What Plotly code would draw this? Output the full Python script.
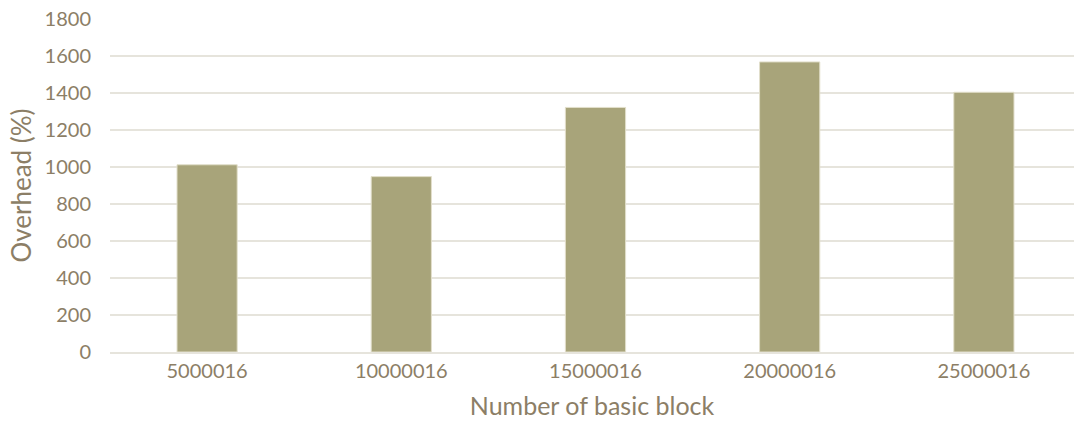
import plotly.graph_objects as go

# Overhead measured for each basic-block count
block_counts = ["5000016", "10000016", "15000016", "20000016", "25000016"]
overhead_pct = [1012, 948, 1322, 1568, 1404]
y_ticks = [0, 200, 400, 600, 800, 1000, 1200, 1400, 1600, 1800]

TEXT = "#8C7E66"
BAR = "#A8A47A"
GRID = "#E6E4DC"
FONT = "Lato"

fig = go.Figure(
    go.Bar(
        x=list(range(len(block_counts))),
        y=overhead_pct,
        width=0.31,
        marker=dict(color=BAR, line=dict(color="#E2DFCB", width=1)),
    )
)

fig.update_layout(
    width=1074,
    height=424,
    margin=dict(l=110, r=0, t=19, b=72),
    paper_bgcolor="white",
    plot_bgcolor="white",
    showlegend=False,
    font=dict(family=FONT, color=TEXT, size=20),
)

fig.update_xaxes(
    range=[-0.5, 4.464],
    tickmode="array",
    tickvals=list(range(len(block_counts))),
    ticktext=block_counts,
    showgrid=False,
    showline=True,
    linecolor=GRID,
    linewidth=2,
    ticks="",
    tickfont=dict(size=20, color=TEXT),
    title=dict(text="Number of basic block", font=dict(size=25, color=TEXT), standoff=16),
)

fig.update_yaxes(
    range=[0, 1800],
    tickmode="array",
    tickvals=y_ticks,
    showgrid=True,
    gridcolor=GRID,
    gridwidth=2,
    zeroline=False,
    ticks="",
    ticklabelstandoff=18,
    tickfont=dict(size=20, color=TEXT),
    title=dict(text="Overhead (%)", font=dict(size=26, color=TEXT), standoff=5),
)

fig.write_html("out.html")
